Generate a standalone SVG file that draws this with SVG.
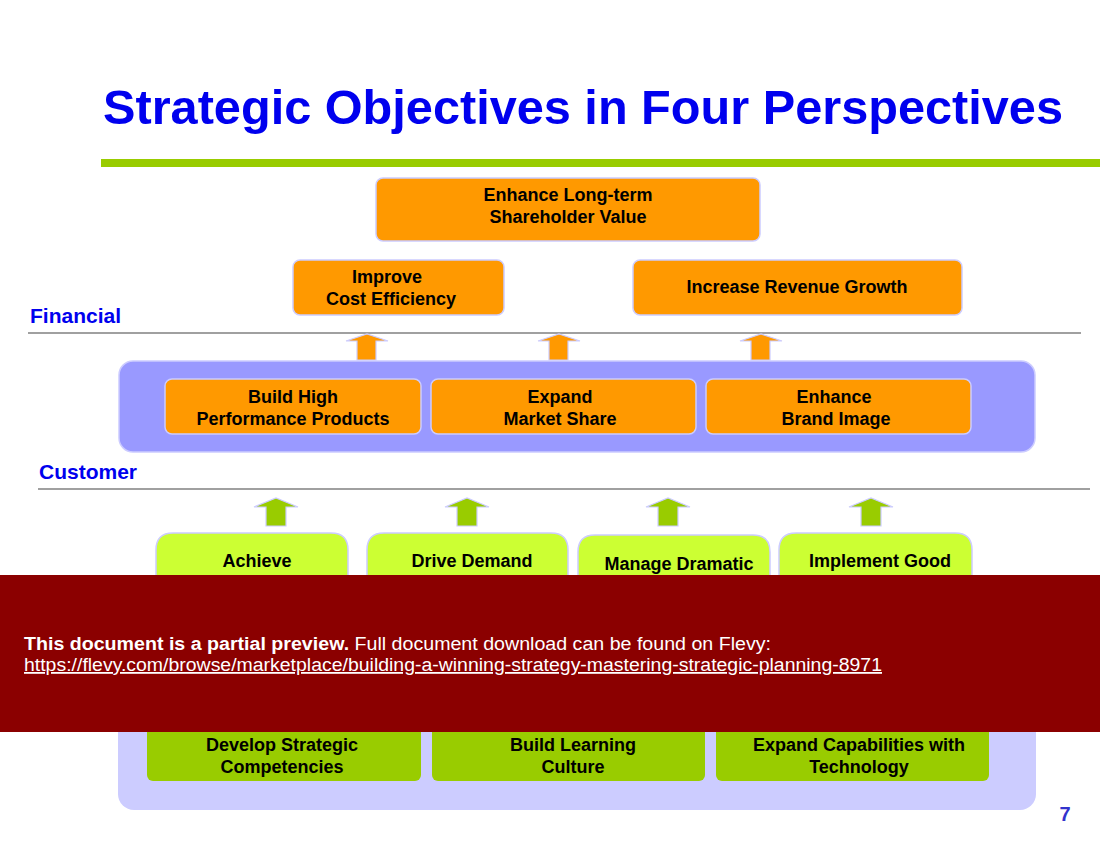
<svg xmlns="http://www.w3.org/2000/svg" width="1100" height="850" viewBox="0 0 1100 850">
<defs><style>
.t{font-family:"Liberation Sans",Arial,sans-serif;font-weight:bold;font-size:18px;fill:#000;text-anchor:middle}
.o{fill:#ff9900;stroke:#ccccff;stroke-width:1.5}
.g{fill:#ccff33;stroke:#ccccff;stroke-width:1.5}
.d{fill:#99cc00}
.lbl{font-family:"Liberation Sans",Arial,sans-serif;font-weight:bold;font-size:21px;fill:#0000ee}
</style></defs>
<rect width="1100" height="850" fill="#fff"/>
<text x="103" y="124" font-family="Liberation Sans,Arial,sans-serif" font-weight="bold" font-size="48" fill="#0000ee" textLength="960" lengthAdjust="spacingAndGlyphs">Strategic Objectives in Four Perspectives</text>
<rect x="101" y="159" width="999" height="8" fill="#99cc00"/>
<text class="lbl" x="30" y="323">Financial</text>
<line x1="28" y1="333" x2="1081" y2="333" stroke="#808080" stroke-width="1.5"/>
<text class="lbl" x="39" y="479">Customer</text>
<line x1="38" y1="489" x2="1090" y2="489" stroke="#808080" stroke-width="1.5"/>
<rect x="119" y="361" width="916" height="91" rx="14" fill="#9999ff" stroke="#ccccff" stroke-width="1.5"/>
<rect x="118" y="700" width="918" height="110" rx="16" fill="#ccccff"/>
<g id="n1"><rect class="o" x="376" y="178" width="384" height="63" rx="7"/><text class="t" x="568" y="201">Enhance Long-term</text><text class="t" x="568" y="223">Shareholder Value</text></g>
<g id="n2"><rect class="o" x="293" y="260" width="211" height="55" rx="7"/><text class="t" x="387" y="283">Improve</text><text class="t" x="391" y="305">Cost Efficiency</text></g>
<g id="n3"><rect class="o" x="633" y="260" width="329" height="55" rx="7"/><text class="t" x="797" y="293">Increase Revenue Growth</text></g>
<g id="n4"><rect class="o" x="165" y="379" width="256" height="55" rx="7"/><text class="t" x="293" y="403">Build High</text><text class="t" x="293" y="425">Performance Products</text></g>
<g id="n5"><rect class="o" x="431" y="379" width="265" height="55" rx="7"/><text class="t" x="560" y="403">Expand</text><text class="t" x="560" y="425">Market Share</text></g>
<g id="n6"><rect class="o" x="706" y="379" width="265" height="55" rx="7"/><text class="t" x="834" y="403">Enhance</text><text class="t" x="836" y="425">Brand Image</text></g>
<g id="n7"><path class="g" d="M156,590 V550 Q156,533 173,533 H331 Q348,533 348,550 V590 Z"/><text class="t" x="257" y="567">Achieve</text></g>
<g id="n8"><path class="g" d="M367,590 V550 Q367,533 384,533 H551 Q568,533 568,550 V590 Z"/><text class="t" x="472" y="567">Drive Demand</text></g>
<g id="n9"><path class="g" d="M578,590 V552 Q578,535 595,535 H753 Q770,535 770,552 V590 Z"/><text class="t" x="679" y="570">Manage Dramatic</text></g>
<g id="n10"><path class="g" d="M779,590 V550 Q779,533 796,533 H955 Q972,533 972,550 V590 Z"/><text class="t" x="880" y="567">Implement Good</text></g>
<g id="n11"><rect class="d" x="147" y="725" width="274" height="56" rx="6"/><text class="t" x="282" y="751">Develop Strategic</text><text class="t" x="282" y="773">Competencies</text></g>
<g id="n12"><rect class="d" x="432" y="725" width="273" height="56" rx="6"/><text class="t" x="573" y="751">Build Learning</text><text class="t" x="573" y="773">Culture</text></g>
<g id="n13"><rect class="d" x="716" y="725" width="273" height="56" rx="6"/><text class="t" x="859" y="751">Expand Capabilities with</text><text class="t" x="859" y="773">Technology</text></g>
<g id="connectors" stroke="#ccccff" stroke-width="1.2">
<path fill="#ff9900" d="M357,360 V341 H346 L367,334 L388,341 H376 V360 Z"/>
<path fill="#ff9900" d="M549,360 V341 H538 L559,334 L580,341 H568 V360 Z"/>
<path fill="#ff9900" d="M751,360 V341 H740 L761,334 L782,341 H770 V360 Z"/>
<path fill="#99cc00" d="M266,526 V507 H254 L276,498 L298,507 H286 V526 Z"/>
<path fill="#99cc00" d="M457,526 V507 H445 L467,498 L489,507 H477 V526 Z"/>
<path fill="#99cc00" d="M658,526 V507 H646 L668,498 L690,507 H678 V526 Z"/>
<path fill="#99cc00" d="M861,526 V507 H849 L871,498 L893,507 H881 V526 Z"/>
</g>
<rect x="0" y="575" width="1100" height="157" fill="#8b0000"/>
<text x="24" y="650" font-family="Liberation Sans,Arial,sans-serif" font-size="18" fill="#fff" textLength="747" lengthAdjust="spacingAndGlyphs"><tspan font-weight="bold">This document is a partial preview.</tspan>  Full document download can be found on Flevy:</text>
<text x="24" y="671" font-family="Liberation Sans,Arial,sans-serif" font-size="18" fill="#fff" text-decoration="underline" textLength="858" lengthAdjust="spacingAndGlyphs">https://flevy.com/browse/marketplace/building-a-winning-strategy-mastering-strategic-planning-8971</text>
<text x="1065" y="821" font-family="Liberation Sans,Arial,sans-serif" font-weight="bold" font-size="20" fill="#3333cc" text-anchor="middle">7</text>
</svg>
